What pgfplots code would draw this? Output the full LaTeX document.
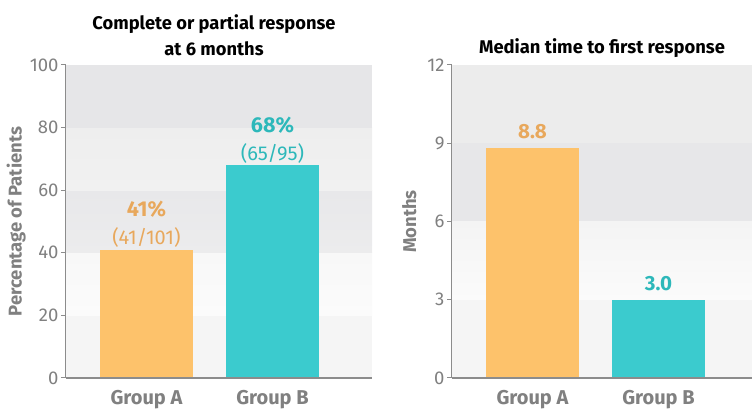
\documentclass[border=0pt]{standalone}
\usepackage{pgfplots}
\pgfplotsset{compat=1.18}
\usepackage{fontspec}
\setmainfont{Fira Sans}
\definecolor{obar}{HTML}{FDC26B}
\definecolor{tbar}{HTML}{3BCBCE}
\definecolor{otext}{HTML}{E8A85C}
\definecolor{ttext}{HTML}{2DB8BA}
\definecolor{gtext}{HTML}{808080}
\definecolor{axgray}{HTML}{8C8C8C}
\definecolor{bA}{HTML}{F5F5F5}
\definecolor{bB}{HTML}{E6E6E8}
\definecolor{bC}{HTML}{E7E7E9}
\definecolor{bD}{HTML}{ECECEC}
\pgfplotsset{
  panel/.style={
    scale only axis, height=313pt,
    ymin=0, axis lines*=left, axis line style={axgray, line width=1.2pt},
    xtick={0,1}, xticklabels={Group A, Group B},
    xtick style={draw=none},
    ytick style={axgray, line width=1pt}, tick align=outside, major tick length=5pt,
    yticklabel style={font=\fontsize{18.5}{20}\selectfont, text=gtext, xshift=1pt},
    xticklabel style={font=\fontsize{20}{22}\selectfont\bfseries, text=gtext, yshift=-4pt},
    /pgf/number format/assume math mode=true,
    ylabel style={font=\fontsize{18.5}{20}\selectfont\bfseries, text=gtext},
    ybar, bar width=93pt,
    nodes near coords style={align=center, font=\fontsize{20}{28}\selectfont, inner sep=2pt},
    clip=false,
  }
}
\begin{document}
\begin{tikzpicture}[x=1pt,y=1pt]
\useasboundingbox (0,0) rectangle (752,409);
\begin{axis}[panel, at={(66pt,31pt)}, anchor=south west, width=306pt,
  xmin=-0.639, xmax=1.79, ymax=100, ytick={0,20,40,60,80,100},
  ylabel={Percentage of Patients}, ylabel style={at={(axis description cs:-0.12,0.5)}}]
  \fill[bA] (axis cs:-0.639,0) rectangle (axis cs:1.79,20);
  \shade[top color={rgb,255:red,248;green,248;blue,248}, bottom color={rgb,255:red,251;green,251;blue,251}] (axis cs:-0.639,20) rectangle (axis cs:1.79,40);
  \shade[top color={rgb,255:red,232;green,232;blue,234}, bottom color={rgb,255:red,236;green,236;blue,237}] (axis cs:-0.639,40) rectangle (axis cs:1.79,60);
  \shade[top color={rgb,255:red,238;green,238;blue,238}, bottom color={rgb,255:red,241;green,241;blue,241}] (axis cs:-0.639,60) rectangle (axis cs:1.79,80);
  \fill[bB] (axis cs:-0.639,80) rectangle (axis cs:1.79,100);
  \addplot[fill=obar, draw=none, bar shift=0pt, nodes near coords={{\fontsize{21.5}{28}\selectfont\bfseries 41\%}\\(41/101)},
    nodes near coords style={text=otext}] coordinates {(0,41)};
  \addplot[fill=tbar, draw=none, bar shift=0pt, nodes near coords={{\fontsize{21.5}{28}\selectfont\bfseries 68\%}\\(65/95)},
    nodes near coords style={text=ttext}] coordinates {(1,68)};
  \draw[axgray, line width=1.2pt] (axis cs:-0.639,0) -- (axis cs:1.79,0);
\end{axis}
\node[align=center, font=\fontsize{18.3}{26}\selectfont\bfseries, anchor=center] at (214,374) {Complete or partial response\\at 6 months};
\begin{axis}[panel, at={(452pt,31pt)}, anchor=south west, width=300pt,
  xmin=-0.639, xmax=1.742, ymax=12, ytick={0,3,6,9,12},
  ylabel={Months}, ylabel style={at={(axis description cs:-0.107,0.5)}}]
  \fill[bA] (axis cs:-0.639,0) rectangle (axis cs:1.742,3);
  \shade[top color={rgb,255:red,244;green,244;blue,244}, bottom color={rgb,255:red,251;green,251;blue,251}] (axis cs:-0.639,3) rectangle (axis cs:1.742,6);
  \fill[bC] (axis cs:-0.639,6) rectangle (axis cs:1.742,9);
  \fill[bD] (axis cs:-0.639,9) rectangle (axis cs:1.742,12);
  \addplot[fill=obar, draw=none, bar shift=0pt, nodes near coords={\fontsize{20.5}{22}\selectfont\bfseries 8.8},
    nodes near coords style={text=otext, yshift=7.5pt}] coordinates {(0,8.8)};
  \addplot[fill=tbar, draw=none, bar shift=0pt, nodes near coords={\fontsize{20.5}{22}\selectfont\bfseries 3.0},
    nodes near coords style={text=ttext, yshift=7pt}] coordinates {(1,3.0)};
  \draw[axgray, line width=1.2pt] (axis cs:-0.639,0) -- (axis cs:1.742,0);
\end{axis}
\node[font=\fontsize{18.4}{20}\selectfont\bfseries] at (602,361) {Median time to first response};
\end{tikzpicture}
\end{document}
